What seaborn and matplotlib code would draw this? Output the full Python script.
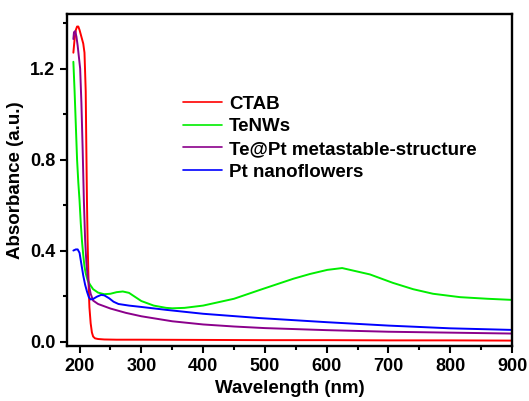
import matplotlib
matplotlib.use("Agg")
import matplotlib.pyplot as plt
import seaborn as sns
import pandas as pd
from matplotlib.ticker import MultipleLocator

series_names = ["CTAB", "TeNWs", "Te@Pt metastable-structure", "Pt nanoflowers"]
colors = ["#FF0000", "#00EE00", "#8B008B", "#0000FF"]

ctab_x = [190, 192, 194, 196, 198, 200, 202, 204, 206, 208, 210, 211, 212, 213, 214, 215, 216, 218,
          220, 222, 225, 230, 240, 260, 300, 400, 500, 600, 700, 800, 900]
ctab_y = [1.27, 1.33, 1.37, 1.385, 1.385, 1.37, 1.35, 1.33, 1.31, 1.27, 1.10, 0.85, 0.62, 0.45, 0.33,
          0.22, 0.15, 0.08, 0.04, 0.022, 0.014, 0.011, 0.009, 0.008, 0.008, 0.007, 0.006, 0.006,
          0.005, 0.005, 0.004]

tenw_x = [190, 192, 194, 196, 198, 200, 202, 204, 206, 208, 210, 213, 217, 222, 230, 240, 250, 260,
          270, 280, 290, 300, 320, 340, 350, 370, 400, 450, 492, 546, 573, 601, 625, 670, 707, 740,
          772, 816, 860, 900]
tenw_y = [1.23, 1.10, 0.95, 0.80, 0.70, 0.62, 0.52, 0.44, 0.38, 0.33, 0.30, 0.27, 0.25, 0.23, 0.215,
          0.208, 0.21, 0.217, 0.22, 0.214, 0.196, 0.178, 0.158, 0.148, 0.146, 0.148, 0.158, 0.188,
          0.227, 0.276, 0.297, 0.315, 0.323, 0.295, 0.258, 0.23, 0.21, 0.195, 0.188, 0.183]

tept_x = [190, 191, 193, 195, 197, 199, 201, 203, 205, 207, 209, 211, 213, 215, 218, 222, 230, 250,
          275, 300, 350, 400, 450, 500, 600, 700, 800, 900]
tept_y = [1.33, 1.36, 1.365, 1.34, 1.30, 1.25, 1.20, 1.05, 0.85, 0.62, 0.45, 0.35, 0.29, 0.25, 0.21,
          0.18, 0.165, 0.145, 0.126, 0.111, 0.089, 0.075, 0.066, 0.059, 0.050, 0.043, 0.039, 0.035]

pt_x = [190, 194, 197, 200, 203, 206, 209, 212, 215, 218, 222, 228, 235, 240, 248, 255, 263, 280,
        300, 341, 400, 492, 600, 700, 800, 900]
pt_y = [0.40, 0.405, 0.405, 0.39, 0.34, 0.29, 0.25, 0.22, 0.195, 0.185, 0.187, 0.197, 0.205, 0.203,
        0.19, 0.175, 0.165, 0.158, 0.152, 0.139, 0.122, 0.103, 0.085, 0.070, 0.058, 0.051]

xs = [ctab_x, tenw_x, tept_x, pt_x]
ys = [ctab_y, tenw_y, tept_y, pt_y]
frames = [pd.DataFrame({"Wavelength": x, "Absorbance": y, "Sample": n})
          for x, y, n in zip(xs, ys, series_names)]
df = pd.concat(frames, ignore_index=True)

sns.set_style("ticks")
plt.rcParams["font.family"] = ["Liberation Sans", "DejaVu Sans"]
plt.rcParams["font.weight"] = "bold"
plt.rcParams["text.color"] = "black"
plt.rcParams["axes.labelcolor"] = "black"
plt.rcParams["xtick.color"] = "black"
plt.rcParams["ytick.color"] = "black"

fig, ax = plt.subplots(figsize=(5.29, 4.01), dpi=100)
fig.subplots_adjust(left=0.127, right=0.968, top=0.965, bottom=0.137)

sns.lineplot(data=df, x="Wavelength", y="Absorbance", hue="Sample", hue_order=series_names,
             palette=colors, estimator=None, sort=False, linewidth=1.4, ax=ax)

ax.set_xlim(180, 900)
ax.set_ylim(-0.02, 1.44)
ax.xaxis.set_major_locator(MultipleLocator(100))
ax.xaxis.set_minor_locator(MultipleLocator(50))
ax.yaxis.set_major_locator(MultipleLocator(0.4))
ax.yaxis.set_minor_locator(MultipleLocator(0.2))
ax.set_yticks([0.0, 0.4, 0.8, 1.2])
ax.set_yticklabels(["0.0", "0.4", "0.8", "1.2"])
ax.tick_params(axis="both", which="major", direction="out", length=5, width=1.5,
               labelsize=13, colors="black")
ax.tick_params(axis="both", which="minor", direction="out", length=3, width=1.5, colors="black")
for lbl in ax.get_xticklabels() + ax.get_yticklabels():
    lbl.set_fontweight("bold")
for s in ax.spines.values():
    s.set_visible(True)
    s.set_linewidth(1.7)
    s.set_color("black")

ax.set_xlabel("Wavelength (nm)", fontsize=13.5, fontweight="bold", color="black")
ax.set_ylabel("Absorbance (a.u.)", fontsize=13.5, fontweight="bold", color="black")

leg = ax.legend(loc="upper left", bbox_to_anchor=(0.26, 0.755), frameon=False,
                borderaxespad=0, borderpad=0, handlelength=2.1, handletextpad=0.35,
                labelspacing=0.3, prop={"size": 13.5, "weight": "bold"})
for t in leg.get_texts():
    t.set_color("black")
for h in leg.get_lines():
    h.set_linewidth(1.2)

fig.savefig("out.png", dpi=100)
